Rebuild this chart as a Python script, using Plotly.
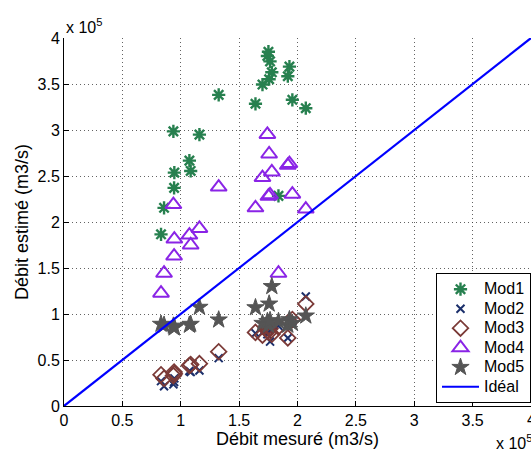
import plotly.graph_objects as go

# Measured discharge (units of 1e5 m3/s)
debit_mesure = [0.831, 0.857, 0.937, 0.943, 0.945, 1.074, 1.085, 1.16, 1.325,
                1.64, 1.70, 1.742, 1.751, 1.757, 1.765, 1.78, 1.837, 1.917,
                1.931, 1.956, 2.071]

# Estimated discharge for each model (units of 1e5 m3/s)
mod1 = [1.866, 2.154, 2.985, 2.371, 2.537, 2.667, 2.555, 2.95, 3.382,
        3.285, 3.494, 3.805, 3.851, 3.552, 3.746, 3.627, 2.284, 3.584,
        3.689, 3.328, 3.237]
mod2 = [0.27, 0.215, 0.235, 0.26, 0.30, 0.38, 0.37, 0.385, 0.52,
        0.79, 0.80, 0.78, 0.84, 0.82, 0.70, 0.86, 0.87, 0.74,
        0.90, 0.92, 1.19]
mod3 = [0.34, 0.30, 0.33, 0.37, 0.35, 0.44, 0.45, 0.46, 0.59,
        0.80, 0.77, 0.82, 0.86, 0.80, 0.84, 0.78, 0.86, 0.74,
        0.92, 0.94, 1.11]
mod4 = [1.226, 1.443, 2.19, 1.63, 1.815, 1.858, 1.75, 1.93, 2.38,
        2.154, 2.483, 2.952, 2.28, 2.739, 2.295, 2.544, 1.443, 2.616,
        2.635, 2.302, 2.14]
mod5 = [0.89, 0.88, 0.87, 0.85, 0.86, 0.88, 0.89, 1.075, 0.937,
        1.07, 0.90, 0.92, 0.88, 1.11, 0.93, 1.30, 0.92, 0.88,
        0.94, 0.90, 0.98]
ideal = [0, 4.2]

axis_ticks = [0, 0.5, 1, 1.5, 2, 2.5, 3, 3.5, 4]
axis_ticktext = ["0", "0.5", "1", "1.5", "2", "2.5", "3", "3.5", "4"]

FONT = "Liberation Sans, Arial, sans-serif"


def legend_label(text):
    # full-size label text inside a compact legend row
    return f'<span style="font-size:16px">{text}</span>'


fig = go.Figure()

fig.add_trace(go.Scatter(
    x=debit_mesure, y=mod1, mode="markers", name=legend_label("Mod1"),
    marker=dict(symbol="asterisk-open", size=11, color="#27804f",
                line=dict(width=2.4, color="#27804f"))))
fig.add_trace(go.Scatter(
    x=debit_mesure, y=mod2, mode="markers", name=legend_label("Mod2"),
    marker=dict(symbol="x-thin-open", size=8, color="#1b2f6b",
                line=dict(width=2, color="#1b2f6b"))))
fig.add_trace(go.Scatter(
    x=debit_mesure, y=mod3, mode="markers", name=legend_label("Mod3"),
    marker=dict(symbol="diamond-open", size=12, color="#7b3a37",
                line=dict(width=1.8, color="#7b3a37"))))
fig.add_trace(go.Scatter(
    x=debit_mesure, y=mod4, mode="markers", name=legend_label("Mod4"),
    marker=dict(symbol="triangle-up-open", size=14, color="#8a24e6",
                line=dict(width=2, color="#8a24e6"))))
fig.add_trace(go.Scatter(
    x=debit_mesure, y=mod5, mode="markers", name=legend_label("Mod5"),
    marker=dict(symbol="star", size=13, color="#555555",
                line=dict(width=1, color="#555555"))))
fig.add_trace(go.Scatter(
    x=ideal, y=ideal, mode="lines", name=legend_label("Idéal"),
    line=dict(color="#0000ff", width=2.2)))

axis_common = dict(
    range=[0, 4], showgrid=True,
    gridcolor="rgba(60,60,60,0.8)", griddash="1px,3px", gridwidth=1,
    zeroline=False, showline=True, linecolor="black", linewidth=1,
    ticks="inside", ticklen=5, tickcolor="black",
    tickfont=dict(family=FONT, size=16, color="black"),
)

# x ticks: the last label sits on the plot's right edge, drawn separately
fig.update_xaxes(**axis_common, tickvals=axis_ticks[:-1], ticktext=axis_ticktext[:-1],
                 title=dict(text="Débit mesuré (m3/s)", standoff=0,
                            font=dict(family=FONT, size=18, color="black")))
fig.update_yaxes(**axis_common, tickvals=axis_ticks, ticktext=axis_ticktext,
                 title=dict(text="Débit estimé (m3/s)", standoff=4,
                            font=dict(family=FONT, size=18, color="black")))

fig.add_annotation(text=axis_ticktext[-1], xref="x", yref="paper",
                   x=axis_ticks[-1], y=0, yshift=-3, xanchor="center", yanchor="top",
                   showarrow=False, font=dict(family=FONT, size=16, color="black"))

fig.add_annotation(text="x 10<sup>5</sup>", xref="paper", yref="paper",
                   x=0.0, y=1.0, xanchor="left", yanchor="bottom", showarrow=False,
                   font=dict(family=FONT, size=16, color="black"))
fig.add_annotation(text="x 10<sup>5</sup>", xref="paper", yref="paper",
                   x=0.92, y=-0.065, xanchor="left", yanchor="top", showarrow=False,
                   font=dict(family=FONT, size=16, color="black"))

fig.update_layout(
    width=531, height=452,
    margin=dict(l=64, r=0, t=38, b=46),
    paper_bgcolor="white", plot_bgcolor="white",
    showlegend=True,
    legend=dict(x=1.0, xanchor="right", y=0.007, yanchor="bottom",
                bgcolor="white", bordercolor="black", borderwidth=1,
                font=dict(family=FONT, size=12.7, color="black"),
                itemsizing="trace", itemwidth=37, tracegroupgap=0),
)

fig.write_html("out.html")
